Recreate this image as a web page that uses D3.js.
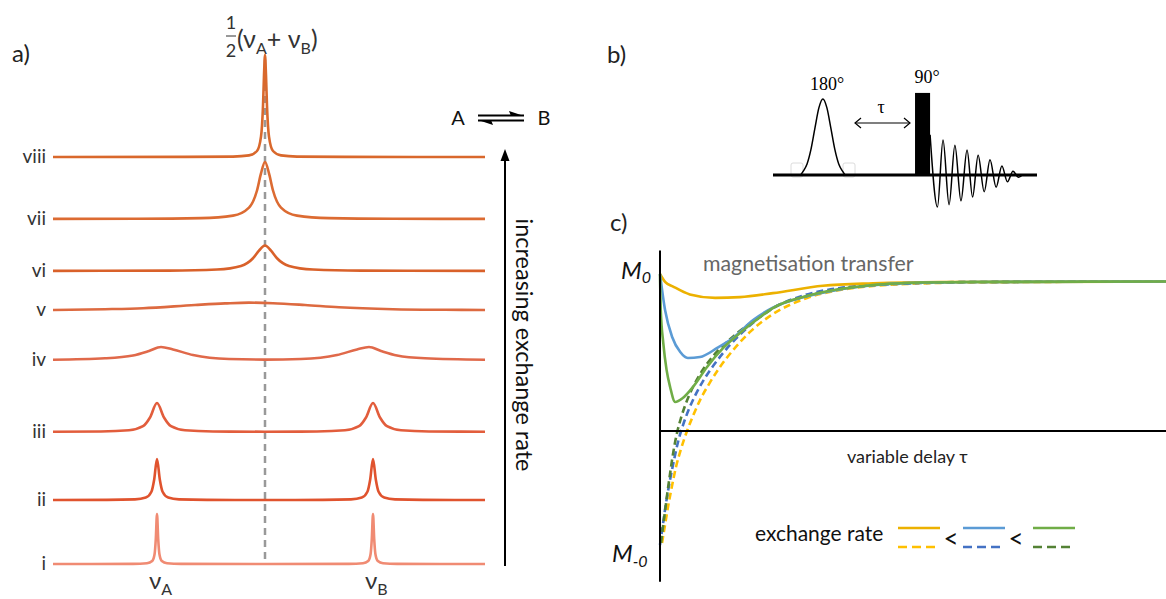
<!DOCTYPE html>
<html>
<head>
<meta charset="utf-8">
<script src="https://cdn.jsdelivr.net/npm/d3@7"></script>
<style>
  body { margin: 0; background: #fff; }
  svg { display: block; font-family: Lato, 'Open Sans', sans-serif; }
</style>
</head>
<body>
<div id="chart"></div>
<script>
// ---- a) stacked spectra, slow exchange (i) at the bottom to fast exchange (viii) at the top
const spectrumNames = ['i', 'ii', 'iii', 'iv', 'v', 'vi', 'vii', 'viii'];
const stackOffsets = [0, 64, 132, 204, 254, 293, 345, 407];
const nuA = -54, nuB = 54;

// [frequency, intensity]
const specI = [[-106,0],[-66,0.1],[-59,0.7],[-56.4,2.9],[-55.2,10],[-54.6,25],[-54,50],[-53.4,25],[-52.8,10],[-51.6,2.9],[-49,0.7],[-42,0.1],[0,0],
  [42,0.1],[49,0.7],[51.6,2.9],[52.8,10],[53.4,25],[54,50],[54.6,25],[55.2,10],[56.4,2.9],[59,0.7],[66,0.1],[110,0]];
const specII = [[-106,0.05],[-79,0.13],[-65,0.65],[-59.6,2.4],[-56.8,8.2],[-55.4,20.5],[-54,41],[-52.6,20.5],[-51.2,8.2],[-48.4,2.4],[-43,0.65],[-29,0.13],[0,0.05],
  [29,0.13],[43,0.65],[48.4,2.4],[51.2,8.2],[52.6,20.5],[54,41],[55.4,20.5],[56.8,8.2],[59.6,2.4],[65,0.65],[79,0.13],[110,0.05]];
const specIII = [[-106,0.3],[-82,0.5],[-68,1.7],[-61,5.8],[-57.5,14.5],[-54,29],[-50.5,14.5],[-47,5.8],[-40,1.7],[-26,0.5],[0,0.3],
  [26,0.5],[40,1.7],[47,5.8],[50.5,14.5],[54,29],[57.5,14.5],[61,5.8],[68,1.7],[82,0.5],[110,0.3]];
const specIV = [[-106,0.3],[-80,1.7],[-66,4.5],[-58,9],[-52,13],[-46,10.5],[-36,5],[-18,1],[0,0.4],
  [18,1],[36,5],[46,10.5],[52,13],[58,9],[66,4.5],[80,1.7],[110,0.3]];
const specV = [[-106,0],[-80,0.8],[-61,1.8],[-35,5],[-20,6.6],[-8,7.4],[4,6.8],[20,5],[37,2.7],[64,0.8],[90,0.2],[110,0]];
const specVI = [[-106,0.1],[-48,0.4],[-24,1.5],[-12,5.1],[-6,12.75],[-3,20.4],[0,25.5],[3,20.4],[6,12.75],[12,5.1],[24,1.5],[48,0.4],[110,0.1]];
const specVII = [[-106,0.1],[-64,0.22],[-32,0.87],[-16,3.35],[-8,11.4],[-4,28.5],[-2,45.6],[0,57],[2,45.6],[4,28.5],[8,11.4],[16,3.35],[32,0.87],[64,0.22],[110,0.1]];
const specVIII = [[-106,0],[-40,0.1],[-16,0.4],[-8,1.6],[-4,6],[-2,20.4],[-1,51],[-0.5,81.6],[0,102],[0.5,81.6],[1,51],[2,20.4],[4,6],[8,1.6],[16,0.4],[40,0.1],[110,0]];
const spectra = [specI, specII, specIII, specIV, specV, specVI, specVII, specVIII];

// ---- b) pulse sequence: [time, amplitude]
const shapedPulse = [[10.5,0],[11.4,0.047],[12.9,0.145],[14.4,0.34],[15.9,0.62],[17.4,0.886],[18.9,1],[20.4,0.886],[21.9,0.62],[23.4,0.34],[24.9,0.145],[26.4,0.047],[27.3,0]];
const hardPulse = { start: 53.8, end: 59.5, height: 1.08 };
const fid = [[59.5,0.53],[62.3,-0.42],[64.4,0.46],[66.7,-0.39],[68.9,0.39],[71.2,-0.34],[73.5,0.33],[75.6,-0.29],
  [77.7,0.26],[80,-0.22],[82.2,0.2],[84.5,-0.16],[86.7,0.12],[88.8,-0.09],[90.9,0.05],[93,-0.03],[94.5,0]];

// ---- c) recovery after the 180 pulse: [delay, M/M0]
const rateNames = ['slow', 'medium', 'fast'];
const solidSlow = [[0,1.0],[1,0.95],[2.6,0.92],[5.9,0.87],[10.9,0.848],[15.8,0.853],[22.3,0.878],[32.2,0.925],[42.1,0.941],[55.3,0.949],[100,0.952]];
const solidMedium = [[0,1.0],[1,0.771],[2.4,0.599],[4,0.503],[5.5,0.465],[7.9,0.471],[11.3,0.529],[14.4,0.592],[18.4,0.707],[22.3,0.785],[29,0.858],
  [35.6,0.902],[42.1,0.928],[48.8,0.942],[61.9,0.949],[100,0.952]];
const solidFast = [[0,1.0],[0.15,0.77],[0.65,0.56],[1.3,0.389],[2,0.28],[3,0.185],[4.5,0.21],[6.5,0.28],[9.3,0.408],[12.5,0.529],[15.8,0.624],[19.8,0.726],
  [22.3,0.783],[29,0.86],[35.6,0.904],[42.1,0.93],[48.8,0.943],[61.9,0.949],[100,0.952]];
const dashedSlow = [[0.4,-0.713],[0.99,-0.599],[1.58,-0.484],[2.37,-0.35],[3.16,-0.229],[4.15,-0.115],[5.34,0],[6.52,0.096],[7.91,0.197],[9.68,0.299],
  [11.86,0.408],[14.62,0.522],[17.79,0.631],[22.33,0.745],[29.05,0.847],[35.57,0.898],[42.09,0.924],[48.81,0.936],[61.86,0.947],[100,0.952]];
const dashedMedium = [[0,-0.726],[0.59,-0.592],[1.19,-0.459],[1.98,-0.312],[2.77,-0.185],[3.56,-0.07],[4.55,0.038],[5.73,0.14],[7.11,0.236],[8.89,0.338],
  [11.07,0.439],[13.83,0.548],[17.19,0.656],[21.74,0.771],[28.66,0.866],[35.57,0.911],[42.09,0.93],[48.81,0.939],[61.86,0.949],[100,0.952]];
const dashedFast = [[0.2,-0.713],[0.79,-0.561],[1.38,-0.414],[1.98,-0.274],[2.57,-0.146],[3.36,-0.013],[4.15,0.083],[5.14,0.178],[6.52,0.28],[8.3,0.382],
  [10.67,0.484],[13.44,0.573],[16.8,0.662],[19.76,0.726],[22.33,0.783],[29.05,0.86],[35.57,0.904],[42.09,0.93],[48.81,0.943],[61.86,0.949],[100,0.952]];
const solidCurves = [solidSlow, solidMedium, solidFast];
const dashedCurves = [dashedSlow, dashedMedium, dashedFast];

// colours
const spectrumColors = ['#f08b73', '#e0532e', '#e25d3c', '#e0694a', '#dd6a40', '#d9612a', '#dc6b32', '#d9682c'];
const solidColors = ['#ecb100', '#5b9bd5', '#70ad47'];
const dashedColors = ['#ffc000', '#4472c4', '#548235'];

const width = 1166, height = 599;
const svg = d3.select('#chart').append('svg')
  .attr('width', width)
  .attr('height', height);

// ================= a) =================
const xA = d3.scaleLinear().domain([-106, 110]).range([53, 485]);
const yA = d3.scaleLinear().domain([0, 520]).range([564, 44]);

svg.append('text').attr('x', 12).attr('y', 62).attr('font-size', 24).attr('fill', '#222').text('a)');

// centre line
svg.append('line')
  .attr('x1', xA(0)).attr('x2', xA(0))
  .attr('y1', 60).attr('y2', yA(0))
  .attr('stroke', '#999').attr('stroke-width', 2.5)
  .attr('stroke-dasharray', '7,5');

spectra.forEach((pts, i) => {
  const line = d3.line()
    .x(d => xA(d[0]))
    .y(d => yA(d[1] + stackOffsets[i]))
    .curve(d3.curveMonotoneX);
  svg.append('path')
    .attr('d', line(pts))
    .attr('fill', 'none')
    .attr('stroke', spectrumColors[i])
    .attr('stroke-width', 2.6)
    .attr('stroke-linejoin', 'round');
  svg.append('text')
    .attr('x', 46)
    .attr('y', yA(stackOffsets[i]) + 6)
    .attr('text-anchor', 'end')
    .attr('font-size', 19)
    .attr('fill', '#333')
    .text(spectrumNames[i]);
});

// nu labels
[[nuA, 'A'], [nuB, 'B']].forEach(([f, s]) => {
  const t = svg.append('text')
    .attr('x', xA(f) - 8).attr('y', 589)
    .attr('font-size', 24).attr('fill', '#333');
  t.append('tspan').text('ν');
  t.append('tspan').attr('dy', 6).attr('font-size', 16).text(s);
});

// title 1/2(nuA + nuB)
const tx = xA(0) - 39;
svg.append('text').attr('x', tx + 5).attr('y', 29).attr('text-anchor', 'middle').attr('font-size', 18).attr('fill', '#333').text('1');
svg.append('line').attr('x1', tx).attr('x2', tx + 10).attr('y1', 36).attr('y2', 36).attr('stroke', '#333').attr('stroke-width', 1);
svg.append('text').attr('x', tx + 5).attr('y', 57).attr('text-anchor', 'middle').attr('font-size', 18).attr('fill', '#333').text('2');
const title = svg.append('text').attr('x', tx + 11).attr('y', 48).attr('font-size', 25).attr('fill', '#333');
title.append('tspan').text('(ν');
title.append('tspan').attr('dy', 6).attr('font-size', 16).text('A');
title.append('tspan').attr('dy', -6).text('+ ν');
title.append('tspan').attr('dy', 6).attr('font-size', 16).text('B');
title.append('tspan').attr('dy', -6).text(')');

// increasing exchange rate arrow
svg.append('line')
  .attr('x1', 505).attr('x2', 505)
  .attr('y1', yA(-2)).attr('y2', 160)
  .attr('stroke', '#000').attr('stroke-width', 2);
svg.append('path').attr('d', 'M505,149 L500.5,161 L509.5,161 Z').attr('fill', '#000');
svg.append('text')
  .attr('transform', 'translate(516,345) rotate(90)')
  .attr('text-anchor', 'middle')
  .attr('font-size', 23.5)
  .attr('fill', '#111')
  .text('increasing exchange rate');

// A <=> B
svg.append('text').attr('x', 458).attr('y', 125).attr('text-anchor', 'middle').attr('font-size', 20).attr('fill', '#111').text('A');
svg.append('text').attr('x', 544).attr('y', 125).attr('text-anchor', 'middle').attr('font-size', 20).attr('fill', '#111').text('B');
svg.append('line').attr('x1', 478).attr('x2', 524).attr('y1', 115.5).attr('y2', 115.5).attr('stroke', '#000').attr('stroke-width', 2);
svg.append('path').attr('d', 'M524,116 L509,111 L511,116 Z').attr('fill', '#000');
svg.append('line').attr('x1', 478).attr('x2', 524).attr('y1', 120.5).attr('y2', 120.5).attr('stroke', '#000').attr('stroke-width', 2);
svg.append('path').attr('d', 'M478,120 L493,125 L491,120 Z').attr('fill', '#000');

// ================= b) =================
const xB = d3.scaleLinear().domain([0, 100]).range([773, 1037]);
const yB = d3.scaleLinear().domain([0, 1]).range([175, 99]);

svg.append('text').attr('x', 607).attr('y', 63).attr('font-size', 24).attr('fill', '#222').text('b)');

// faint marker boxes either side of the shaped pulse
[[791, 163], [843, 163]].forEach(([x, y]) => {
  svg.append('rect').attr('x', x).attr('y', y).attr('width', 12).attr('height', 14)
    .attr('rx', 2).attr('fill', 'none').attr('stroke', '#dcdcdc').attr('stroke-width', 1);
});

const pulseLine = d3.line().x(d => xB(d[0])).y(d => yB(d[1])).curve(d3.curveMonotoneX);
svg.append('path').attr('d', pulseLine(shapedPulse)).attr('fill', 'none').attr('stroke', '#000').attr('stroke-width', 1.5);
svg.append('path').attr('d', pulseLine(fid)).attr('fill', 'none').attr('stroke', '#000').attr('stroke-width', 1.5);

svg.append('line')
  .attr('x1', xB(0)).attr('x2', xB(100))
  .attr('y1', yB(0)).attr('y2', yB(0))
  .attr('stroke', '#000').attr('stroke-width', 3.2);

svg.append('rect')
  .attr('x', xB(hardPulse.start)).attr('y', yB(hardPulse.height))
  .attr('width', xB(hardPulse.end) - xB(hardPulse.start))
  .attr('height', yB(0) - yB(hardPulse.height))
  .attr('fill', '#000');

svg.append('text').attr('x', 827).attr('y', 90).attr('text-anchor', 'middle')
  .attr('font-family', "'Liberation Serif', 'DejaVu Serif', serif").attr('font-size', 18).text('180°');
svg.append('text').attr('x', 927).attr('y', 83).attr('text-anchor', 'middle')
  .attr('font-family', "'Liberation Serif', 'DejaVu Serif', serif").attr('font-size', 18).text('90°');
svg.append('text').attr('x', 881).attr('y', 113).attr('text-anchor', 'middle')
  .attr('font-family', "'Liberation Serif', 'DejaVu Serif', serif").attr('font-size', 18).text('τ');
svg.append('line').attr('x1', 855).attr('x2', 910).attr('y1', 123).attr('y2', 123).attr('stroke', '#000').attr('stroke-width', 1.2);
svg.append('path').attr('d', 'M861,118 L855,123 L861,128 M904,118 L910,123 L904,128')
  .attr('fill', 'none').attr('stroke', '#000').attr('stroke-width', 1.2);

// ================= c) =================
const xC = d3.scaleLinear().domain([0, 100]).range([660, 1166]);
const yC = d3.scaleLinear().domain([0, 1]).range([431, 274]);

svg.append('text').attr('x', 610).attr('y', 231).attr('font-size', 24).attr('fill', '#222').text('c)');

const curveLine = d3.line().x(d => xC(d[0])).y(d => yC(d[1])).curve(d3.curveMonotoneX);
dashedCurves.forEach((pts, i) => {
  svg.append('path').attr('d', curveLine(pts))
    .attr('fill', 'none').attr('stroke', dashedColors[i]).attr('stroke-width', 2.6)
    .attr('stroke-dasharray', '7,4');
});
solidCurves.forEach((pts, i) => {
  svg.append('path').attr('d', curveLine(pts))
    .attr('fill', 'none').attr('stroke', solidColors[i]).attr('stroke-width', 2.6);
});

// axes
svg.append('line').attr('x1', xC(0)).attr('x2', xC(0)).attr('y1', yC(1.15)).attr('y2', yC(-0.96))
  .attr('stroke', '#000').attr('stroke-width', 2);
svg.append('line').attr('x1', xC(0)).attr('x2', xC(100)).attr('y1', yC(0)).attr('y2', yC(0))
  .attr('stroke', '#000').attr('stroke-width', 2);

const m0 = svg.append('text').attr('x', 621).attr('y', 279).attr('font-size', 24).attr('font-style', 'italic').attr('fill', '#111');
m0.append('tspan').text('M');
m0.append('tspan').attr('dy', 4).attr('font-size', 16).text('0');
const mm0 = svg.append('text').attr('x', 612).attr('y', 562).attr('font-size', 24).attr('font-style', 'italic').attr('fill', '#111');
mm0.append('tspan').text('M');
mm0.append('tspan').attr('dy', 5).attr('font-size', 16).text('-0');

svg.append('text').attr('x', 703).attr('y', 271).attr('font-size', 21.3).attr('fill', '#666').text('magnetisation transfer');
svg.append('text').attr('x', 847).attr('y', 463).attr('font-size', 18).attr('fill', '#222').text('variable delay τ');

// legend
svg.append('text').attr('x', 755).attr('y', 541).attr('font-size', 21).attr('fill', '#111').text('exchange rate');
const legendX = [898, 963, 1033];
rateNames.forEach((name, i) => {
  svg.append('line').attr('x1', legendX[i]).attr('x2', legendX[i] + 42).attr('y1', 528).attr('y2', 528)
    .attr('stroke', solidColors[i]).attr('stroke-width', 2.6);
  svg.append('line').attr('x1', legendX[i]).attr('x2', legendX[i] + 40).attr('y1', 547).attr('y2', 547)
    .attr('stroke', dashedColors[i]).attr('stroke-width', 2.6).attr('stroke-dasharray', '9,5');
  if (i < rateNames.length - 1) {
    svg.append('text').attr('x', legendX[i] + 53).attr('y', 548).attr('text-anchor', 'middle')
      .attr('font-size', 26).attr('fill', '#111').text('<');
  }
});
</script>
</body>
</html>
